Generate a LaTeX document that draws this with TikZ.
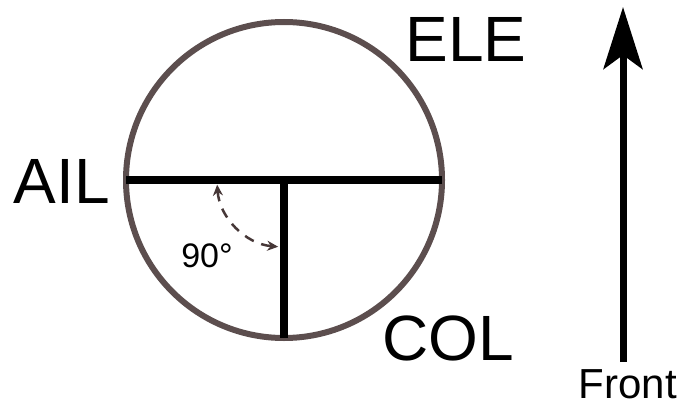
\documentclass[tikz,border=0pt]{standalone}
\usepackage{fontspec}
\setmainfont{Liberation Sans}
\usetikzlibrary{arrows.meta}
\definecolor{ringcol}{RGB}{92,78,78}
\definecolor{dashcol}{RGB}{70,55,55}
\begin{document}
\begin{tikzpicture}[x=1pt,y=1pt,
  biglabel/.style={font=\fontsize{64}{64}\selectfont, inner sep=0pt, anchor=base},
  bar/.style={line width=7.5pt, black},
  angarrow/.style={dashcol, line width=2.5pt, dash pattern=on 10pt off 8pt,
    {Stealth[length=11pt,width=10pt]}-{Stealth[length=11pt,width=10pt]}},
  frontarrow/.style={line width=7pt, -{Stealth[length=62pt,width=39pt,inset=14pt]}}]
\useasboundingbox (0,0) rectangle (684,-406);
\node[circle, draw=ringcol, line width=6pt, minimum size=316pt, inner sep=0pt, outer sep=0pt] (ring) at (284,-180) {};
\draw[bar] (ring.west) -- (ring.east);
\draw[bar] (ring.center) -- (ring.south);
\draw[angarrow] ([shift={(184:67)}]ring.center) arc[start angle=184, end angle=265, radius=67];
\node[biglabel] (ele) at (466,-62) {ELE};
\node[biglabel] (ail) at (62,-203) {AIL};
\node[biglabel] (col) at (448,-360) {COL};
\node[font=\fontsize{34}{34}\selectfont, inner sep=0pt, anchor=base] (ang) at (207,-267) {90°};
\node[font=\fontsize{42}{42}\selectfont, inner sep=0pt, anchor=base] (front) at (628,-398) {Front};
\coordinate (fb) at (623,-362);
\coordinate (ft) at (623,-7);
\draw[frontarrow] (fb) -- (ft);
\end{tikzpicture}
\end{document}
